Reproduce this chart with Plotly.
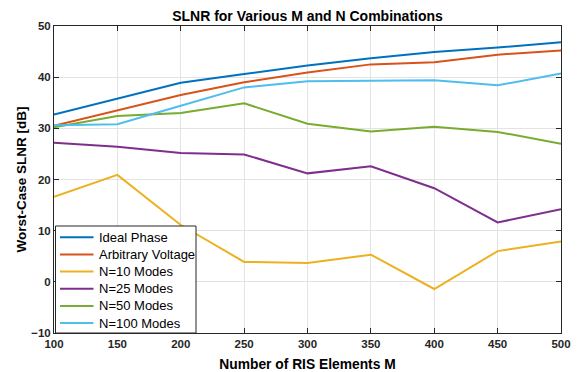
import plotly.graph_objects as go

# RIS element counts on the x axis
m_elements = [100, 150, 200, 250, 300, 350, 400, 450, 500]

# Worst-case SLNR [dB] for each scheme
ideal_phase = [32.7, 35.8, 38.9, 40.6, 42.3, 43.7, 44.9, 45.8, 46.8]
arbitrary_voltage = [30.5, 33.5, 36.5, 39.0, 40.9, 42.5, 42.9, 44.4, 45.2]
n10_modes = [16.6, 20.9, 11.1, 3.9, 3.7, 5.3, -1.4, 6.0, 7.9]
n25_modes = [27.2, 26.4, 25.2, 24.9, 21.2, 22.6, 18.3, 11.6, 14.2]
n50_modes = [30.2, 32.4, 33.0, 34.9, 30.9, 29.4, 30.3, 29.3, 27.0]
n100_modes = [30.6, 30.8, 34.4, 38.0, 39.2, 39.3, 39.4, 38.4, 40.7]

series_names = ["Ideal Phase", "Arbitrary Voltage", "N=10 Modes",
                "N=25 Modes", "N=50 Modes", "N=100 Modes"]
series_values = [ideal_phase, arbitrary_voltage, n10_modes,
                 n25_modes, n50_modes, n100_modes]
series_colors = ["#0072BD", "#D95319", "#EDB120", "#7E2F8E", "#77AC30", "#4DBEEE"]

x_ticks = [100, 150, 200, 250, 300, 350, 400, 450, 500]
y_ticks = [-10, 0, 10, 20, 30, 40, 50]

W, H = 579, 372
ML, MR, MT, MB = 54, 18, 26, 39
PW, PH = W - ML - MR, H - MT - MB


def px(x):
    """Pixel column -> paper x fraction of the plot area."""
    return (x - ML) / PW


def py(y):
    """Pixel row -> paper y fraction of the plot area."""
    return 1 - (y - MT) / PH


fig = go.Figure()
for name, vals, color in zip(series_names, series_values, series_colors):
    fig.add_trace(go.Scatter(
        x=m_elements, y=vals, mode="lines", name=name,
        line=dict(color=color, width=2), showlegend=False,
    ))

# Compact boxed legend in the lower-left corner of the axes
shapes = [dict(type="rect", xref="paper", yref="paper", layer="above",
               x0=px(55.5), x1=px(196), y0=py(333), y1=py(226),
               fillcolor="white", line=dict(color="#262626", width=1))]
annotations = []
row0, row_step = 237.3, 17.15
for i, (name, color) in enumerate(zip(series_names, series_colors)):
    yc = row0 + i * row_step
    shapes.append(dict(type="line", xref="paper", yref="paper", layer="above",
                       x0=px(60), x1=px(93.5), y0=py(yc), y1=py(yc),
                       line=dict(color=color, width=2)))
    annotations.append(dict(xref="paper", yref="paper", x=px(96.5), y=py(yc),
                            xanchor="left", yanchor="middle", showarrow=False,
                            text=name, font=dict(family="Liberation Sans", size=13,
                                                 color="black")))

axis_common = dict(
    showline=True, linecolor="#262626", linewidth=1, mirror="ticks",
    ticks="inside", ticklen=5, tickcolor="#262626", automargin=False,
    showgrid=True, gridcolor="#e3e3e3", gridwidth=1, zeroline=False,
    tickfont=dict(family="Liberation Sans", size=11.5, color="#262626", weight="bold"),
)

fig.update_layout(
    width=W, height=H,
    margin=dict(l=ML, r=MR, t=MT, b=MB),
    paper_bgcolor="white", plot_bgcolor="white",
    font=dict(family="Liberation Sans", color="#262626"),
    title=dict(
        text="<b>SLNR for Various M and N Combinations</b>",
        x=(ML + W - MR) / 2 / W, xanchor="center", y=1 - 16 / H, yanchor="middle",
        font=dict(size=14, color="black"),
    ),
    xaxis=dict(
        range=[100, 500], tickvals=x_ticks,
        title=dict(text="<b>Number of RIS Elements M</b>", font=dict(size=13.8, color="black"),
                   standoff=10),
        **axis_common,
    ),
    yaxis=dict(
        range=[-10, 50], tickvals=y_ticks,
        title=dict(text="<b>Worst-Case SLNR [dB]</b>", font=dict(size=13.5, color="black"),
                   standoff=1),
        **axis_common,
    ),
    shapes=shapes,
    annotations=annotations,
    showlegend=False,
)

fig.write_html("out.html")
